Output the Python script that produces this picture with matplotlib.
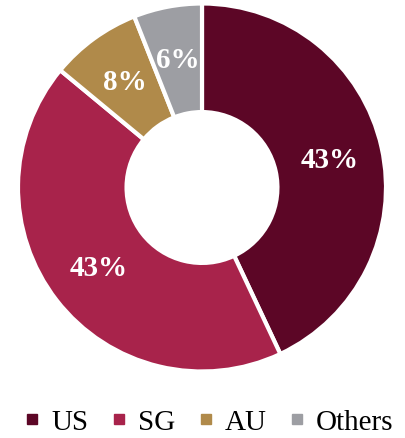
import matplotlib.pyplot as plt
from matplotlib.lines import Line2D

labels = ["US", "SG", "AU", "Others"]
shares = [43, 43, 8, 6]
colors = ["#5c0626", "#a8234b", "#b08a4a", "#9d9ea3"]

plt.rcParams["font.family"] = ["Liberation Serif", "DejaVu Serif"]

fig = plt.figure(figsize=(4.05, 4.39), dpi=100)
W, H = 405, 439
cx, cy, r = 202, 439 - 188.5, 184
ax = fig.add_axes([(cx - r) / W, (cy - r) / H, 2 * r / W, 2 * r / H])

wedges, texts, autotexts = ax.pie(
    shares, colors=colors, startangle=90, counterclock=False,
    radius=1.0, autopct=lambda p: f"{p:.0f}%", pctdistance=0.71,
    wedgeprops=dict(width=0.59, edgecolor="white", linewidth=3),
    textprops=dict(color="white", fontsize=21, fontweight="bold"))
ax.set_xlim(-1, 1)
ax.set_ylim(-1, 1)
ax.set_aspect("equal")

handles = [Line2D([], [], marker="s", linestyle="none", markersize=6.5,
                  markerfacecolor=c, markeredgecolor=c) for c in colors]
fig.legend(handles, labels, loc="center",
           bbox_to_anchor=(0.5 + 6 / W, 1 - 423 / H),
           ncol=4, frameon=False, fontsize=21, handlelength=0.6,
           handletextpad=0.35, columnspacing=0.75, borderaxespad=0)

fig.savefig("out.png", dpi=100)
